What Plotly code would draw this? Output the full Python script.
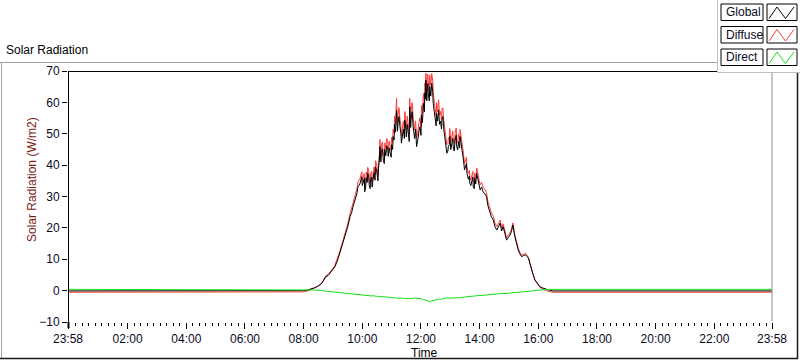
import pandas as pd
import plotly.graph_objects as go

# ---------------- data ----------------
start_time = "2024-01-01 23:58"
end_time = "2024-01-02 23:58"

times = ["07:50", "08:00", "08:08", "08:15", "08:22", "08:29", "08:35", "08:40", "08:45", "08:50",
         "08:54", "09:00", "09:04", "09:09", "09:14", "09:19", "09:25", "09:30", "09:35", "09:38",
         "09:41", "09:45", "09:49", "09:51", "09:55", "09:59", "10:02", "10:05", "10:08", "10:11",
         "10:14", "10:17", "10:20", "10:24", "10:27", "10:30", "10:33", "10:36", "10:39", "10:43",
         "10:46", "10:50", "10:53", "10:57", "11:00", "11:03", "11:06", "11:10", "11:13", "11:17",
         "11:20", "11:24", "11:27", "11:30", "11:34", "11:37", "11:40", "11:44", "11:47", "11:51",
         "11:54", "11:58", "12:01", "12:05", "12:08", "12:10", "12:13", "12:15", "12:18", "12:22",
         "12:25", "12:29", "12:32", "12:36", "12:40", "12:43", "12:46", "12:50", "12:53", "12:56",
         "12:59", "13:03", "13:06", "13:10", "13:13", "13:17", "13:20", "13:24", "13:27", "13:31",
         "13:34", "13:37", "13:40", "13:44", "13:47", "13:50", "13:54", "13:57", "14:01", "14:04",
         "14:07", "14:11", "14:14", "14:17", "14:21", "14:24", "14:28", "14:31", "14:35", "14:38",
         "14:42", "14:45", "14:48", "14:52", "14:55", "14:58", "15:02", "15:05", "15:08", "15:12",
         "15:15", "15:19", "15:22", "15:26", "15:30", "15:34", "15:37", "15:40", "15:43", "15:46",
         "15:50", "15:53", "15:58", "16:03", "16:08", "16:13", "16:17", "16:23", "16:30"]

global_rad = [-0.1, 0.0, 0.2, 0.5, 0.9, 1.4, 2.0, 3.0, 4.4, 4.8,
              5.5, 6.6, 7.6, 9.5, 11.9, 14.4, 17.2, 20.2, 23.6, 24.8,
              26.7, 29.0, 31.0, 33.1, 34.0, 36.3, 34.5, 31.5, 36.0, 37.4,
              33.8, 35.5, 33.0, 37.6, 39.5, 36.4, 39.0, 45.9, 44.0, 41.6,
              45.0, 46.2, 42.8, 43.8, 46.5, 49.1, 53.0, 57.6, 53.5, 52.2,
              47.0, 51.5, 54.4, 49.0, 50.1, 58.6, 55.0, 52.2, 48.5, 45.9,
              49.5, 52.2, 56.0, 59.7, 63.0, 67.1, 64.5, 62.9, 65.0, 66.1,
              59.7, 54.4, 56.5, 57.6, 54.0, 55.0, 52.2, 47.5, 43.8, 46.0,
              49.1, 47.0, 45.9, 48.0, 46.0, 47.5, 49.1, 45.0, 41.6, 39.5,
              37.4, 35.5, 34.2, 35.5, 33.0, 35.8, 37.4, 35.0, 32.1, 33.0,
              31.5, 30.8, 29.9, 27.0, 24.6, 23.5, 22.5, 20.5, 19.3, 20.2,
              21.5, 19.0, 20.4, 18.0, 16.1, 16.8, 17.7, 18.8, 20.9, 17.2,
              15.0, 12.9, 11.8, 10.8, 11.2, 11.4, 10.9, 10.3, 8.5, 6.6,
              4.8, 3.4, 2.2, 1.3, 0.9, 0.6, 0.4, 0.1, -0.1]

diffuse_rad = [-0.5, -0.4, -0.1, 0.3, 0.8, 1.4, 2.1, 3.2, 4.7, 5.2,
               5.9, 7.1, 8.1, 10.1, 12.6, 15.2, 18.1, 21.2, 24.6, 26.0,
               27.9, 30.3, 32.4, 34.6, 35.5, 37.9, 36.2, 33.0, 37.8, 39.3,
               35.4, 37.2, 34.7, 39.4, 41.4, 38.2, 41.0, 48.2, 46.0, 43.6,
               47.1, 48.5, 44.9, 45.9, 48.8, 51.4, 55.6, 61.3, 56.0, 54.8,
               49.4, 54.0, 57.1, 51.5, 52.6, 61.3, 57.8, 55.0, 51.2, 48.7,
               52.3, 55.1, 59.0, 62.8, 66.2, 69.3, 67.9, 66.4, 68.6, 69.2,
               63.2, 57.8, 59.9, 60.8, 57.1, 58.0, 55.1, 50.3, 46.5, 48.6,
               51.7, 49.5, 48.4, 50.4, 48.4, 49.8, 51.4, 47.2, 43.7, 41.5,
               39.4, 37.4, 36.1, 37.3, 34.8, 37.5, 39.1, 36.6, 33.7, 34.5,
               33.0, 32.2, 31.3, 28.3, 25.9, 24.8, 23.7, 21.6, 20.4, 21.3,
               22.5, 20.0, 21.3, 18.9, 16.9, 17.6, 18.4, 19.5, 21.6, 17.8,
               15.6, 13.5, 12.3, 11.3, 11.6, 11.8, 11.2, 10.6, 8.7, 6.8,
               4.9, 3.4, 2.1, 1.1, 0.6, 0.2, 0.0, -0.3, -0.5]

direct_rad = [0.4, 0.4, 0.3, 0.3, 0.2, 0.1, 0.0, -0.1, -0.2, -0.3,
              -0.3, -0.4, -0.5, -0.6, -0.6, -0.7, -0.8, -0.8, -0.9, -1.0,
              -1.0, -1.1, -1.2, -1.3, -1.3, -1.4, -1.5, -1.4, -1.6, -1.7,
              -1.6, -1.7, -1.6, -1.8, -1.9, -1.8, -1.9, -2.0, -1.9, -2.0,
              -2.1, -2.0, -2.1, -2.2, -2.1, -2.2, -2.3, -2.4, -2.3, -2.3,
              -2.2, -2.4, -2.5, -2.3, -2.4, -2.6, -2.5, -2.4, -2.3, -2.4,
              -2.5, -2.5, -2.6, -2.8, -3.0, -3.2, -3.1, -3.3, -3.5, -3.3,
              -3.0, -2.8, -2.9, -2.7, -2.6, -2.7, -2.6, -2.4, -2.3, -2.4,
              -2.5, -2.3, -2.4, -2.3, -2.2, -2.3, -2.2, -2.1, -2.0, -2.0,
              -1.9, -1.9, -1.8, -1.8, -1.7, -1.7, -1.6, -1.6, -1.5, -1.5,
              -1.4, -1.4, -1.4, -1.3, -1.3, -1.2, -1.2, -1.1, -1.1, -1.0,
              -1.0, -0.9, -0.9, -0.9, -0.8, -0.8, -0.8, -0.7, -0.7, -0.6,
              -0.6, -0.5, -0.5, -0.4, -0.4, -0.3, -0.3, -0.3, -0.2, -0.1,
              -0.1, 0.0, 0.1, 0.2, 0.3, 0.4, 0.4, 0.4, 0.4]

# additional readings between the ones above (noisy mid-day period)
extra_times = ["10:00", "10:04", "10:07", "10:10", "10:13", "10:16", "10:19", "10:22", "10:26", "10:29",
               "10:32", "10:35", "10:38", "10:41", "10:45", "10:48", "10:52", "10:55", "10:59",
               "11:02", "11:05", "11:08", "11:12", "11:15", "11:19", "11:22", "11:26", "11:29", "11:32",
               "11:36", "11:39", "11:42", "11:46", "11:49", "11:53", "11:56",
               "12:00", "12:03", "12:07", "12:09", "12:12", "12:14", "12:17", "12:20", "12:24", "12:27",
               "12:31", "12:34", "12:38", "12:42", "12:45", "12:48", "12:52", "12:55", "12:58",
               "13:01", "13:05", "13:08", "13:12", "13:15", "13:19", "13:22", "13:26", "13:29", "13:33",
               "13:36", "13:39", "13:42", "13:46", "13:49", "13:52", "13:56", "13:59"]
extra_global = [33.5, 35.8, 33.2, 34.5, 36.8, 32.5, 36.2, 35.0, 35.2, 38.6,
                35.0, 41.5, 41.0, 45.2, 40.5, 43.0, 45.3, 45.5, 42.5,
                45.0, 48.0, 50.5, 50.8, 55.5, 50.0, 49.0, 48.5, 51.8, 53.0,
                47.5, 52.0, 57.0, 50.5, 51.5, 47.5, 51.0,
                49.5, 53.5, 57.0, 61.0, 60.5, 66.0, 60.5, 62.0, 63.5, 57.0,
                52.5, 54.0, 53.0, 51.5, 55.5, 50.0, 46.0, 44.5, 46.5,
                45.0, 48.5, 44.5, 49.5, 44.8, 45.5, 47.0, 43.5, 38.5, 40.5,
                36.0, 36.5, 33.5, 36.2, 32.5, 34.0, 36.0, 33.5]
extra_diffuse = [35.0, 37.3, 34.8, 36.2, 38.5, 34.1, 38.0, 36.8, 37.0, 40.5,
                 36.8, 43.5, 43.0, 47.4, 42.6, 45.1, 47.5, 47.7, 44.7,
                 47.3, 50.3, 53.0, 53.3, 58.3, 52.5, 51.4, 51.0, 54.4, 55.6,
                 50.0, 54.7, 59.9, 53.1, 54.1, 50.1, 53.6,
                 52.2, 56.3, 59.9, 64.3, 63.7, 69.0, 63.9, 65.4, 66.8, 60.2,
                 55.6, 57.0, 55.9, 54.2, 58.2, 52.6, 48.6, 46.9, 49.0,
                 47.4, 50.9, 46.8, 51.8, 47.1, 47.7, 49.2, 45.6, 40.5, 42.5,
                 37.9, 38.3, 35.3, 38.0, 34.2, 35.7, 37.6, 35.1]
extra_direct = [-1.4, -1.5, -1.5, -1.6, -1.6, -1.7, -1.7, -1.7, -1.8, -1.8,
                -1.9, -1.9, -1.9, -2.0, -2.0, -2.1, -2.1, -2.1, -2.2,
                -2.2, -2.3, -2.3, -2.4, -2.4, -2.3, -2.4, -2.5, -2.5, -2.4,
                -2.5, -2.6, -2.5, -2.4, -2.4, -2.5, -2.5,
                -2.6, -2.7, -2.9, -3.1, -3.2, -3.3, -3.4, -3.4, -3.2, -2.9,
                -2.9, -2.8, -2.7, -2.7, -2.6, -2.5, -2.4, -2.4, -2.5,
                -2.4, -2.4, -2.3, -2.3, -2.3, -2.2, -2.2, -2.1, -2.0, -2.0,
                -1.9, -1.9, -1.8, -1.8, -1.7, -1.7, -1.6, -1.6]

# night values (before sunrise / after sunset)
night_global = -0.1
night_diffuse = -0.5
night_direct = 0.4

tick_labels = ["23:58", "02:00", "04:00", "06:00", "08:00", "10:00", "12:00",
               "14:00", "16:00", "18:00", "20:00", "22:00", "23:58"]
y_ticks = [-10, 0, 10, 20, 30, 40, 50, 60, 70]

# ---------------- build ----------------
day = pd.DataFrame({"t": times + extra_times,
                    "g": global_rad + extra_global,
                    "d": diffuse_rad + extra_diffuse,
                    "r": direct_rad + extra_direct})
day["t"] = pd.to_datetime("2024-01-02 " + day["t"])
day = day.sort_values("t")

x_all = [pd.Timestamp(start_time)] + list(day["t"]) + [pd.Timestamp(end_time)]
g_all = [night_global] + list(day["g"]) + [night_global]
d_all = [night_diffuse] + list(day["d"]) + [night_diffuse]
r_all = [night_direct] + list(day["r"]) + [night_direct]

tick_vals = pd.to_datetime([start_time] + ["2024-01-02 " + t for t in tick_labels[1:-1]] + [end_time])

FONT = "Liberation Sans"
TXT = "#0a0a1e"

fig = go.Figure()
fig.add_trace(go.Scatter(x=x_all, y=d_all, mode="lines", name="Diffuse",
                         line=dict(color="#ff3b3b", width=1)))
fig.add_trace(go.Scatter(x=x_all, y=g_all, mode="lines", name="Global",
                         line=dict(color="#000000", width=1)))
fig.add_trace(go.Scatter(x=x_all, y=r_all, mode="lines", name="Direct",
                         line=dict(color="#14e014", width=1)))

L, R, T, B = 68, 772, 71, 322
W, H = 800, 361


def px(x):
    return (x - L) / (R - L)


def py(y):
    return (B - y) / (B - T)


shapes = []
def line(x0, y0, x1, y1, color, width=1):
    shapes.append(dict(type="line", xref="paper", yref="paper", x0=px(x0), y0=py(y0),
                       x1=px(x1), y1=py(y1), line=dict(color=color, width=width), layer="above"))

# outer frame
line(0, 62.5, 717, 62.5, "#a0a0a0")
line(1.5, 62, 1.5, 359, "#a0a0a0")
line(0, 358.5, 798, 358.5, "#1a1a1a", 1.5)
line(797.5, 72, 797.5, 359, "#1a1a1a", 1.5)
# plot borders
line(68.5, 71, 68.5, 322, "#000000")
line(68, 71.5, 717, 71.5, "#000000")
line(772, 72, 772, 321, "#909090")
# legend area border
line(717.5, 0, 717.5, 72, "#c0c0c0")
line(717, 72.5, 800, 72.5, "#c0c0c0")
# thick first tick
line(68.5, 322, 68.5, 328, "#000000", 2)

annotations = []
legend_names = ["Global", "Diffuse", "Direct"]
legend_colors = ["#000000", "#ff3b3b", "#14e014"]
row_tops = [4, 26.5, 49]
for name, col, top in zip(legend_names, legend_colors, row_tops):
    bot = top + 16.5
    shapes.append(dict(type="rect", xref="paper", yref="paper", x0=px(721), x1=px(763),
                       y0=py(top), y1=py(bot), line=dict(color="#000000", width=1),
                       fillcolor="white", layer="above"))
    shapes.append(dict(type="rect", xref="paper", yref="paper", x0=px(767), x1=px(797),
                       y0=py(top), y1=py(bot), line=dict(color="#000000", width=1),
                       fillcolor="white", layer="above"))
    pts = [(769, bot - 2), (777, top + 3), (785.5, bot - 2), (794, top + 3)]
    path = "M " + " L ".join(f"{px(a):.5f},{py(b):.5f}" for a, b in pts)
    shapes.append(dict(type="path", xref="paper", yref="paper", path=path,
                       line=dict(color=col, width=1), layer="above"))
    annotations.append(dict(text=name, xref="paper", yref="paper", x=px(723.5), y=py((top + bot) / 2),
                            xanchor="left", yanchor="middle", showarrow=False,
                            font=dict(family=FONT, size=12, color=TXT)))

annotations.append(dict(text="Solar Radiation", xref="paper", yref="paper", x=px(4), y=py(50),
                        xanchor="left", yanchor="middle", showarrow=False,
                        font=dict(family=FONT, size=12, color="#000000")))
annotations.append(dict(text="Solar Radiation (W/m2)", xref="paper", yref="paper", x=px(32), y=py(180),
                        xanchor="center", yanchor="middle", showarrow=False, textangle=-90,
                        font=dict(family=FONT, size=12, color="#7a1c14")))
annotations.append(dict(text="Time", xref="paper", yref="paper", x=px(424), y=py(353),
                        xanchor="center", yanchor="middle", showarrow=False,
                        font=dict(family=FONT, size=12, color="#000000")))

fig.update_layout(
    width=W, height=H,
    margin=dict(l=L, r=W - R, t=T, b=H - B, pad=0),
    paper_bgcolor="white", plot_bgcolor="white",
    showlegend=False, hovermode=False,
    shapes=shapes, annotations=annotations,
    xaxis=dict(type="date", range=[pd.Timestamp(start_time), pd.Timestamp(end_time)],
               tickmode="array", tickvals=tick_vals, ticktext=tick_labels,
               ticks="outside", ticklen=6, tickwidth=1, tickcolor="#000000",
               showgrid=False, showline=False, zeroline=False,
               tickfont=dict(family=FONT, size=12, color=TXT),
               minor=dict(ticks="outside", ticklen=3, tickwidth=1, tickcolor="#000000",
                          tickmode="linear", tick0="2024-01-02 02:00", dtick=800000,
                          showgrid=False)),
    yaxis=dict(range=[-10, 70], tickmode="array", tickvals=y_ticks,
               ticks="outside", ticklen=5, tickwidth=1, tickcolor="#000000",
               showgrid=False, showline=False, zeroline=False,
               tickfont=dict(family=FONT, size=12, color=TXT)),
)

fig.write_html("out.html", config={"displayModeBar": False},
               post_script="document.body.style.margin='0px';document.body.style.overflow='hidden';")
